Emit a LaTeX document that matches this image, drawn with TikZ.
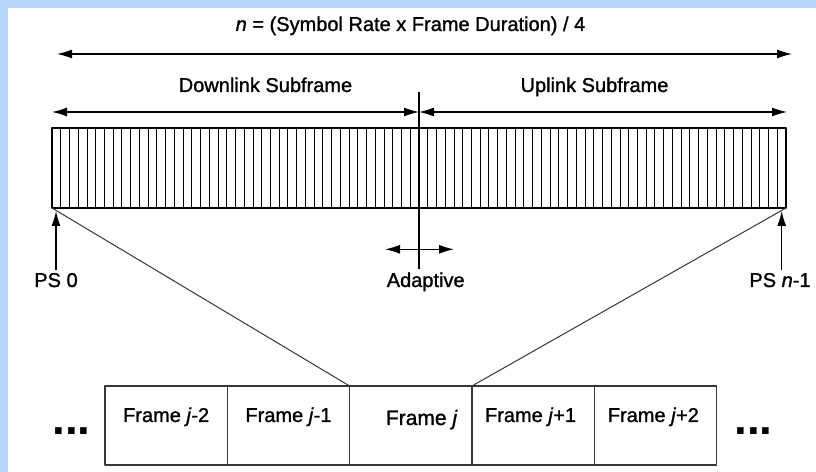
\documentclass[tikz,border=0pt]{standalone}
\usepackage{fontspec}
\setmainfont{Liberation Sans}[UprightFeatures={FakeBold=1.2},ItalicFeatures={FakeBold=1.2}]
\usepackage{tikz}
\usetikzlibrary{arrows.meta,positioning,calc}

\definecolor{slideblue}{RGB}{182,216,254}
\definecolor{framegray}{RGB}{55,55,55}
\tikzset{
  lbl/.style={font=\fontsize{20bp}{24bp}\selectfont,inner sep=0pt},
  dots/.style={font=\fontsize{46bp}{50bp}\selectfont\bfseries,inner sep=0pt},
  span/.style={<->,line width=1.2bp},
  ptr/.style={->,line width=1.2bp},
  cellbar/.style={draw,line width=1.2bp,minimum width=734bp,minimum height=80bp,inner sep=0pt,outer sep=0pt},
  cell/.style={line width=0.9bp},
  divider/.style={line width=1.3bp},
  framebox/.style={draw=framegray,line width=1.3bp,minimum width=122.3bp,minimum height=79bp,inner sep=0pt,outer sep=0pt},
  fan/.style={draw=framegray,line width=1bp},
}

\begin{document}
\begin{tikzpicture}[>={Latex[length=15bp,width=9bp]},line join=bevel,]
%%
\useasboundingbox (0bp,0bp) rectangle (816bp,472bp);
\fill [slideblue] (0bp,0bp) rectangle (816bp,472bp);
\fill [white] (8bp,0bp) rectangle (816bp,464bp);
%% whole frame
\node (title) at (410.5bp,441bp) [lbl,anchor=base] {\textit{n} = (Symbol Rate x Frame Duration) / 4};
\coordinate (tl) at (57bp,418bp);
\coordinate (tr) at (792bp,418bp);
\draw [span] (tl) -- (tr);
%% subframes
\node (down) at (265.5bp,380bp) [lbl,anchor=base] {Downlink Subframe};
\node (up) at (594.5bp,380bp) [lbl,anchor=base] {Uplink Subframe};
\node (bar) at (419bp,304bp) [cellbar] {};
\coordinate (dl) at ($(bar.west)+(0bp,56bp)$);
\coordinate (ur) at ($(bar.east)+(1bp,56bp)$);
\coordinate (mtop) at (419bp,380bp);
\coordinate (mbot) at (419bp,203bp);
\coordinate (mid) at (mtop |- dl);
\draw [span] (dl) -- (mid);
\draw [span] (mid) -- (ur);
\foreach \i in {1,...,83}
  \draw [cell] ([xshift=\i*8.738bp]bar.south west) -- ([xshift=\i*8.738bp]bar.north west);
\draw [divider] (mtop) -- (mbot);
%% adaptive boundary
\node (adapt) at (425.7bp,185bp) [lbl,anchor=base] {Adaptive};
\coordinate (al) at (385bp,222.7bp);
\coordinate (ar) at (454bp,222.7bp);
\draw [span] (al) -- (ar);
%% physical slots
\node (ps0) at (56bp,185bp) [lbl,anchor=base] {PS 0};
\node (psn) at (780bp,185bp) [lbl,anchor=base] {PS \textit{n}-1};
\draw [ptr] ([yshift=3bp]ps0.north) -- ([yshift=-3bp]ps0.north |- bar.south);
\draw [ptr] ([xshift=1.7bp,yshift=3bp]psn.north) -- ([xshift=1.7bp,yshift=-3bp]psn.north |- bar.south);
%% frame sequence
\node (fa) at (166.15bp,46.5bp) [framebox] {};
\node (fb) [framebox,right=0pt of fa] {};
\node (fj) [framebox,right=0pt of fb] {};
\node (fc) [framebox,right=0pt of fj] {};
\node (fd) [framebox,right=0pt of fc] {};
\node (ta) at ([yshift=3.5bp]fa.center) [lbl,anchor=base] {Frame \textit{j}-2};
\node (tb) at ([yshift=3.5bp]fb.center) [lbl,anchor=base] {Frame \textit{j}-1};
\node (tj) at ([xshift=11bp,yshift=0.5bp]fj.center) [lbl,anchor=base,font=\fontsize{21bp}{25bp}\selectfont] {Frame \textit{j}};
\node (tc) at ([xshift=-2.5bp,yshift=3.5bp]fc.center) [lbl,anchor=base] {Frame \textit{j}+1};
\node (td) at ([xshift=-2bp,yshift=3.5bp]fd.center) [lbl,anchor=base] {Frame \textit{j}+2};
\node (dotsl) at (71.5bp,37.7bp) [dots,anchor=base] {...};
\node (dotsr) at (753.5bp,37.7bp) [dots,anchor=base] {...};
%% zoom lines
\draw [fan] (bar.south west) -- (fj.north west);
\draw [fan] (bar.south east) -- (fj.north east);
%
\end{tikzpicture}
\end{document}
